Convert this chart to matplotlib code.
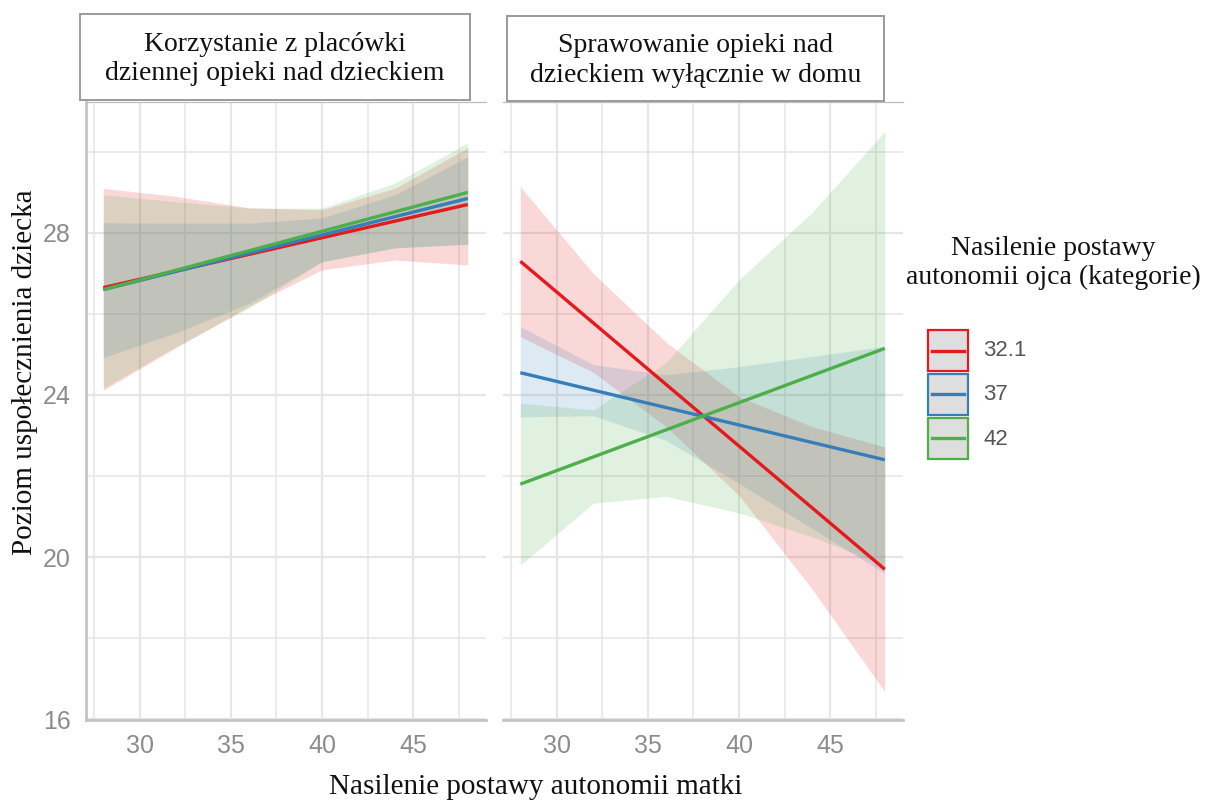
import matplotlib
matplotlib.use("Agg")
import matplotlib.pyplot as plt
from matplotlib.patches import Rectangle
from matplotlib.lines import Line2D
from matplotlib.ticker import MultipleLocator

# dane
grupy = ["32.1", "37", "42"]
kolory = ["#E41A1C", "#377EB8", "#4DAF4A"]
panele = ["Korzystanie z placówki\ndziennej opieki nad dzieckiem",
          "Sprawowanie opieki nad\ndzieckiem wyłącznie w domu"]

x_pasma = [28, 32, 36, 40, 44, 48]
x_linii = [28, 48]

# panel 1: placówka
p1_linia = {
    "32.1": [26.65, 28.70],
    "37": [26.60, 28.85],
    "42": [26.60, 29.00],
}
p1_gora = {
    "32.1": [29.10, 28.90, 28.62, 28.57, 29.10, 30.10],
    "37": [28.25, 28.24, 28.24, 28.37, 28.94, 29.88],
    "42": [28.94, 28.77, 28.61, 28.61, 29.23, 30.22],
}
p1_dol = {
    "32.1": [24.12, 25.17, 26.19, 27.09, 27.33, 27.21],
    "37": [24.92, 25.54, 26.26, 27.29, 27.63, 27.72],
    "42": [24.17, 25.20, 26.15, 27.29, 27.63, 27.72],
}

# panel 2: dom
p2_linia = {
    "32.1": [27.30, 19.70],
    "37": [24.55, 22.40],
    "42": [21.80, 25.15],
}
p2_gora = {
    "32.1": [29.14, 27.00, 25.30, 23.96, 23.22, 22.72],
    "37": [25.69, 24.75, 24.50, 24.70, 24.95, 25.20],
    "42": [23.80, 23.63, 24.80, 26.84, 28.50, 30.50],
}
p2_dol = {
    "32.1": [25.44, 24.56, 23.22, 21.52, 19.22, 16.68],
    "37": [23.46, 23.49, 22.88, 21.82, 20.71, 19.60],
    "42": [19.80, 21.33, 21.50, 21.09, 20.50, 19.80],
}

W, H = 1207, 805
fig = plt.figure(figsize=(W / 100, H / 100), dpi=100)

serif = "Liberation Serif"
sans = "Liberation Sans"
siatka = "#e6e6e6"
os_kolor = "#c4c4c4"
tekst_szary = "#8c8c8c"

ax1 = fig.add_axes([86 / W, 1 - 720 / H, 400 / W, 618 / H])
ax2 = fig.add_axes([503 / W, 1 - 720 / H, 400 / W, 618 / H])

dane = [(ax1, p1_linia, p1_gora, p1_dol), (ax2, p2_linia, p2_gora, p2_dol)]

for ax, linia, gora, dol in dane:
    for g, k in zip(grupy, kolory):
        ax.fill_between(x_pasma, dol[g], gora[g], color=k, alpha=0.17,
                        linewidth=0, zorder=2)
    for g, k in zip(grupy, kolory):
        ax.plot(x_linii, linia[g], color=k, lw=2.4, zorder=3,
                solid_capstyle="butt")

    ax.set_xlim(27.05, 49.0)
    ax.set_ylim(15.98, 31.23)
    ax.xaxis.set_major_locator(MultipleLocator(5))
    ax.xaxis.set_minor_locator(MultipleLocator(2.5))
    ax.yaxis.set_major_locator(MultipleLocator(4))
    ax.yaxis.set_minor_locator(MultipleLocator(2))
    ax.grid(which="major", color=siatka, lw=1.6, zorder=0)
    ax.grid(which="minor", color=siatka, lw=1.1, zorder=0)
    ax.set_axisbelow(True)
    ax.tick_params(which="both", length=0)
    ax.tick_params(axis="x", pad=10, labelsize=18, labelcolor=tekst_szary)
    ax.tick_params(axis="y", pad=11, labelsize=18, labelcolor=tekst_szary)
    for lab in ax.get_xticklabels() + ax.get_yticklabels():
        lab.set_fontfamily(sans)
    ax.spines["right"].set_visible(False)
    ax.spines["bottom"].set_color(os_kolor)
    ax.spines["bottom"].set_linewidth(2.0)
    ax.spines["top"].set_color("#bdbdbd")
    ax.spines["top"].set_linewidth(0.9)
    ax.spines["left"].set_color(os_kolor)
    ax.spines["left"].set_linewidth(2.0)

ax2.spines["left"].set_visible(False)
ax2.tick_params(axis="y", labelleft=False)
ax1.set_xticks([30, 35, 40, 45])
ax2.set_xticks([30, 35, 40, 45])

# paski z tytułami paneli
for (x0, x1, y0, y1), tytul in zip([(80, 470, 14, 100), (507, 884, 16, 101)], panele):
    fig.add_artist(Rectangle((x0 / W, 1 - y1 / H), (x1 - x0) / W, (y1 - y0) / H,
                             transform=fig.transFigure, facecolor="white",
                             edgecolor="#9a9a9a", lw=1.4, zorder=5))
    fig.text((x0 + x1) / 2 / W, 1 - ((y0 + y1) / 2 + 2) / H, tytul, ha="center",
             va="center", family=serif, fontsize=20, linespacing=1.25,
             color="#111111", zorder=6)

fig.text(536 / W, 1 - 787 / H, "Nasilenie postawy autonomii matki", ha="center",
         va="center", family=serif, fontsize=21, color="#111111")
fig.text(25 / W, 1 - 372 / H, "Poziom uspołecznienia dziecka", ha="center",
         va="center", rotation=90, family=serif, fontsize=21, color="#111111")

# legenda
fig.text(1053 / W, 1 - 263 / H, "Nasilenie postawy\nautonomii ojca (kategorie)",
         ha="center", va="center", family=serif, fontsize=20, linespacing=1.2,
         color="#111111")
klucze_y = [330, 374, 418]
for g, k, yt in zip(grupy, kolory, klucze_y):
    fig.add_artist(Rectangle((928 / W, 1 - (yt + 41) / H), 40 / W, 41 / H,
                             transform=fig.transFigure, facecolor="#dedede",
                             edgecolor=k, lw=1.6))
    fig.add_artist(Line2D([932 / W, 964 / W], [1 - (yt + 20.5) / H] * 2,
                          transform=fig.transFigure, color=k, lw=2.4))
    fig.text(983 / W, 1 - (yt + 21) / H, g, ha="left", va="center", family=sans,
             fontsize=16, color="#555555")

fig.savefig("out.png", dpi=100)
